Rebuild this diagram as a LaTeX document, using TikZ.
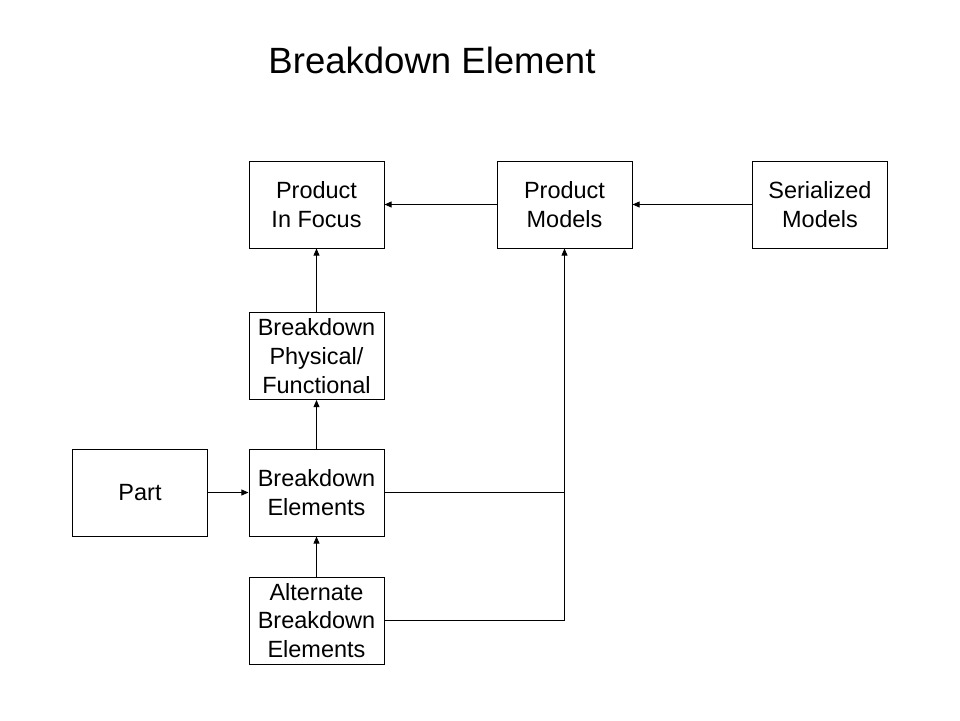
\documentclass[tikz,border=0pt]{standalone}
\usepackage{fontspec}
\setmainfont{Liberation Sans}
\usetikzlibrary{arrows.meta, positioning}

\begin{document}
\begin{tikzpicture}[>={Triangle[length=1.8mm, width=1.5mm]}, line width=0.7pt,
    blockbox/.style={draw, minimum width=3.375cm, minimum height=2.175cm, align=center,
        font=\fontsize{16.7}{20.5}\selectfont, inner sep=0pt}]
    \useasboundingbox (0,0) rectangle (24,18);

    % Title
    \node (title) at (10.8,16.5) {\fontsize{26}{30}\selectfont Breakdown Element};

    % Top row
    \node[blockbox] (focus) at (7.9125,12.8875) {Product\\In Focus};
    \node[blockbox] (models) at (14.1125,12.8875) {Product\\Models};
    \node[blockbox] (serial) at (20.5,12.8875) {Serialized\\Models};

    % Breakdown column
    \node[blockbox] (physical) at (7.9125,9.1) {Breakdown\\Physical/\\Functional};
    \node[blockbox] (elements) at (7.9125,5.6875) {Breakdown\\Elements};
    \node[blockbox] (alternate) at (7.9125,2.4875) {Alternate\\Breakdown\\Elements};
    \node[blockbox] (part) at (3.5,5.6875) {Part};

    % Connectors
    \draw[->] (models) -- (focus);
    \draw[->] (serial) -- (models);
    \draw[->] (physical) -- (focus);
    \draw[->] (elements) -- (physical);
    \draw[->] (alternate) -- (elements);
    \draw[->] (part) -- (elements);
    \draw (elements.east) -- (elements.east -| models.south);
    \draw[->] (alternate.east) -| (models.south);
\end{tikzpicture}
\end{document}
